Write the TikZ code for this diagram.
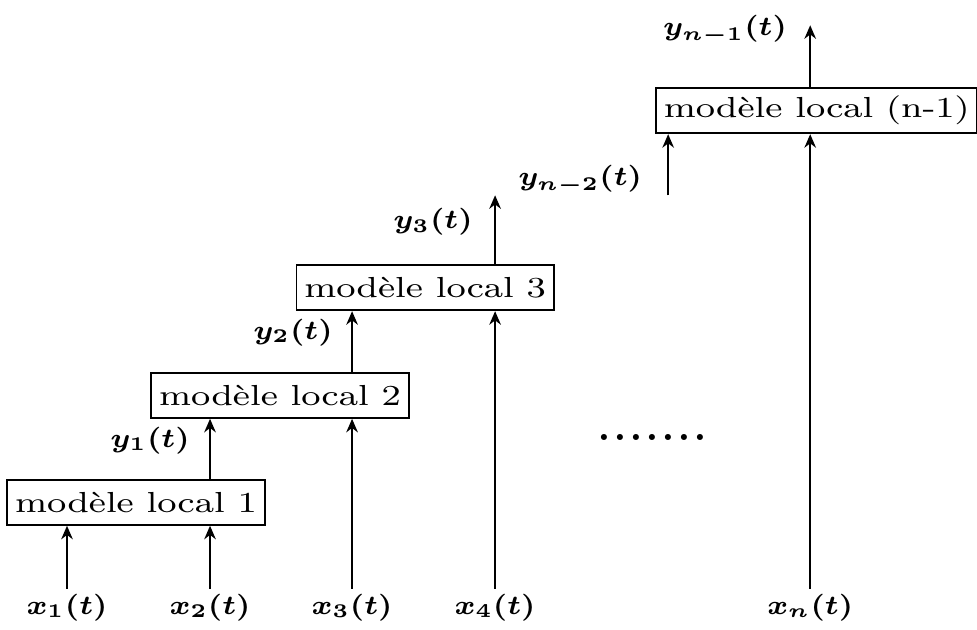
\documentclass[tikz,border=0pt]{standalone}
\usepackage{fontspec}
\usetikzlibrary{arrows.meta, positioning}

% wide, flat lettering
\newcommand{\etire}[2][1.25]{\scalebox{#1}[1]{#2}}

\begin{document}
\boldmath
\begin{tikzpicture}[>={Stealth[length=3.5pt,width=3pt]}, line width=0.5pt,
modele/.style={draw, inner xsep=2pt, inner ysep=0pt, minimum height=0.41cm, font=\fontsize{7.5}{9}\selectfont},
entree/.style={inner sep=1pt, font=\fontsize{7}{9}\selectfont},
sortie/.style={inner sep=1pt, font=\fontsize{7}{9}\selectfont}]
\useasboundingbox (0,0) rectangle (8.88,5.72);

% local models
\node[modele] (m1) at (1.236,1.155) {\etire{modèle local 1}};
\node[modele] (m2) at (2.545,2.127) {\etire{modèle local 2}};
\node[modele] (m3) at (3.864,3.105) {\etire{modèle local 3}};
\node[modele] (mn) at (7.423,4.714) {\etire{modèle local (n-1)}};

% inputs
\node[entree] (x1) at (0.609,0.2) {\etire[1.05]{$x_1(t)$}};
\node[entree] (x2) at (1.909,0.2) {\etire[1.05]{$x_2(t)$}};
\node[entree] (x3) at (3.2,0.2) {\etire[1.05]{$x_3(t)$}};
\node[entree] (x4) at (4.5,0.2) {\etire[1.05]{$x_4(t)$}};
\node[entree] (xn) at (7.364,0.2) {\etire[1.05]{$x_n(t)$}};

\draw[->] (x1.north) -- (x1.north |- m1.south);
\draw[->] (x2.north) -- (x2.north |- m1.south);
\draw[->] (x3.north) -- (x3.north |- m2.south);
\draw[->] (x4.north) -- (x4.north |- m3.south);
\draw[->] (xn.north) -- (xn.north |- mn.south);

% outputs passed on to the next model
\draw[->] (x2.north |- m1.north) -- (x2.north |- m2.south);
\draw[->] (x3.north |- m2.north) -- (x3.north |- m3.south);
\coordinate (y3) at (4.5,3.945);
\draw[->] (x4.north |- m3.north) -- (y3);
\coordinate (yn2) at (6.073,3.945);
\draw[->] (yn2) -- (yn2 |- mn.south);
\coordinate (yn1) at (7.364,5.49);
\draw[->] (xn.north |- mn.north) -- (yn1);

\node[sortie] (ly1) at (1.364,1.718) {\etire[1.05]{$y_1(t)$}};
\node[sortie] (ly2) at (2.664,2.7) {\etire[1.05]{$y_2(t)$}};
\node[sortie] (ly3) at (3.936,3.7) {\etire[1.05]{$y_3(t)$}};
\node[sortie] (lyn2) at (5.273,4.082) {\etire[1.05]{$y_{n-2}(t)$}};
\node[sortie] (lyn1) at (6.59,5.445) {\etire[1.05]{$y_{n-1}(t)$}};

\node (etc) at (5.927,1.745) {$.\mkern1.5mu.\mkern1.5mu.\mkern1.5mu.\mkern1.5mu.\mkern1.5mu.\mkern1.5mu.$};
\end{tikzpicture}
\end{document}
